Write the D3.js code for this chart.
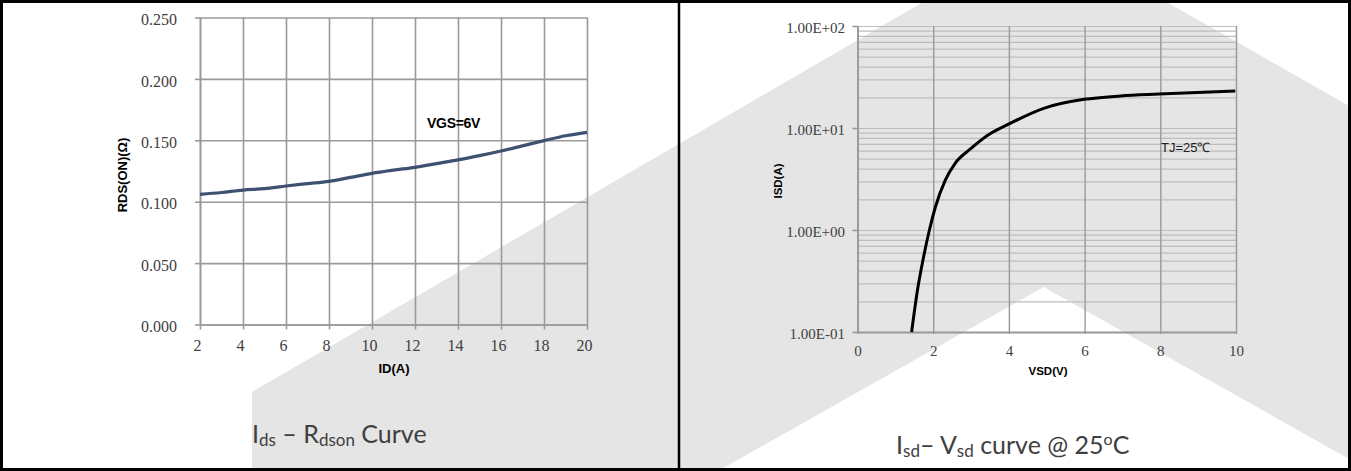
<!DOCTYPE html>
<html><head><meta charset="utf-8">
<script src="https://cdn.jsdelivr.net/npm/d3@7/dist/d3.min.js"></script>
<style>
html,body{margin:0;padding:0;background:#fff;}
svg{display:block;}
.serif text{font-family:"Liberation Serif","DejaVu Serif",serif !important;}
</style></head>
<body>
<svg id="c" width="1351" height="471"></svg>
<script>
// ---- Data: left chart (Ids - Rdson) ----
const idA = [2, 3, 4, 5, 6, 7, 8, 9, 10, 11, 12, 13, 14, 15, 16, 17, 18, 19, 20];
const rdsOn = [0.106, 0.1075, 0.1095, 0.1106, 0.1128, 0.1147, 0.1166, 0.1198, 0.1231, 0.1257, 0.128, 0.131, 0.134, 0.1375, 0.1413, 0.1455, 0.1497, 0.1537, 0.1565];
const xTicksL = [2, 4, 6, 8, 10, 12, 14, 16, 18, 20];
const yTicksL = [0, 0.05, 0.1, 0.15, 0.2, 0.25];
const yTickLabelsL = ["0.000", "0.050", "0.100", "0.150", "0.200", "0.250"];

// ---- Data: right chart (Isd - Vsd) ----
const vsd = [1.43, 1.585, 1.73, 1.9, 2.06, 2.32, 2.58, 3.0, 3.45, 3.99, 4.92, 5.99, 6.95, 7.97, 9.98];
const isd = [0.1, 0.258, 0.508, 1.0, 1.69, 3.09, 4.51, 6.3, 8.53, 10.9, 15.6, 19.1, 20.6, 21.5, 23.1];
const xTicksR = [0, 2, 4, 6, 8, 10];
const yTicksR = [0.1, 1, 10, 100];
const yTickLabelsR = ["1.00E-01", "1.00E+00", "1.00E+01", "1.00E+02"];

const svg = d3.select("#c");

// ---- watermark (background chevron) ----
svg.append("polygon")
  .attr("points", [[252,471],[252,392],[1043.6,-68],[1351,107],[1351,460],[1043.7,287],[718,471]].map(p=>p.join(",")).join(" "))
  .attr("fill", "#e5e5e5");

const labFont = "'Liberation Sans', Arial, sans-serif";

// ================= LEFT CHART =================
const xL = d3.scaleLinear().domain([2, 20]).range([200, 587]);
const yL = d3.scaleLinear().domain([0, 0.25]).range([324.5, 17.5]);
const gL = svg.append("g");

// grid
gL.append("g").attr("transform", `translate(0,${yL(0)})`)
  .call(d3.axisBottom(xL).tickValues(xTicksL).tickSize(-(yL(0) - yL(0.25))).tickFormat("").tickSizeOuter(0))
  .call(g => g.select(".domain").remove())
  .call(g => g.selectAll("line").attr("stroke", "#9a9a9a").attr("stroke-width", 1.6));
gL.append("g").attr("transform", `translate(${xL(2)},0)`)
  .call(d3.axisLeft(yL).tickValues(yTicksL).tickSize(-(xL(20) - xL(2))).tickFormat("").tickSizeOuter(0))
  .call(g => g.select(".domain").remove())
  .call(g => g.selectAll("line").attr("stroke", "#9a9a9a").attr("stroke-width", 1.6));

// axes with labels
gL.append("g").attr("class", "serif").attr("transform", `translate(0,${yL(0)})`)
  .call(d3.axisBottom(xL).tickValues(xTicksL).tickSize(5).tickPadding(10).tickSizeOuter(0))
  .call(g => g.select(".domain").attr("stroke", "#9a9a9a").attr("stroke-width", 1.6))
  .call(g => g.selectAll("line").attr("stroke", "#9a9a9a").attr("stroke-width", 1.6))
  .call(g => g.selectAll("text").attr("font-size", 16).attr("fill", "#404040").attr("dx", -3));
gL.append("g").attr("class", "serif").attr("transform", `translate(${xL(2)},0)`)
  .call(d3.axisLeft(yL).tickValues(yTicksL).tickSize(5).tickPadding(18).tickSizeOuter(0)
    .tickFormat((d, i) => yTickLabelsL[i]))
  .call(g => g.select(".domain").attr("stroke", "#9a9a9a").attr("stroke-width", 1.6))
  .call(g => g.selectAll("line").attr("stroke", "#9a9a9a").attr("stroke-width", 1.6))
  .call(g => g.selectAll("text").attr("font-size", 16).attr("fill", "#404040").attr("dy", "0.45em"));

// curve
gL.append("path")
  .datum(idA.map((d, i) => [d, rdsOn[i]]))
  .attr("fill", "none").attr("stroke", "#3e5170").attr("stroke-width", 3.2)
  .attr("d", d3.line().x(d => xL(d[0])).y(d => yL(d[1])).curve(d3.curveMonotoneX));

// labels
gL.append("text").attr("x", 394).attr("y", 373).attr("text-anchor", "middle")
  .attr("font-family", labFont).attr("font-weight", "bold").attr("font-size", 13).text("ID(A)");
gL.append("text").attr("transform", "translate(127,175) rotate(-90)").attr("text-anchor", "middle")
  .attr("font-family", labFont).attr("font-weight", "bold").attr("font-size", 13).text("RDS(ON)(Ω)");
gL.append("text").attr("x", 427).attr("y", 128)
  .attr("font-family", labFont).attr("font-weight", "bold").attr("font-size", 14).attr("letter-spacing", -0.3).text("VGS=6V");

// title
const tL = svg.append("text").attr("x", 252).attr("y", 443)
  .attr("font-family", "Lato, 'Open Sans', sans-serif").attr("font-size", 25).attr("fill", "#404040");
tL.append("tspan").text("I");
tL.append("tspan").attr("font-size", 17).attr("dy", 3).text("ds");
tL.append("tspan").attr("dy", -3).text(" – R");
tL.append("tspan").attr("font-size", 17).attr("dy", 3).text("dson");
tL.append("tspan").attr("dy", -3).text(" Curve");

// ================= RIGHT CHART =================
const xR = d3.scaleLinear().domain([0, 10]).range([857.5, 1236]);
const yR = d3.scaleLog().domain([0.1, 100]).range([332, 26]);
const gR = svg.append("g");

const minorVals = [];
[0.1, 1, 10].forEach(b => { for (let k = 1; k <= 9; k++) minorVals.push(b * k); });
minorVals.push(100);

gR.append("g").attr("transform", `translate(${xR(0)},0)`)
  .call(d3.axisLeft(yR).tickValues(minorVals).tickSize(-(xR(10) - xR(0))).tickFormat("").tickSizeOuter(0))
  .call(g => g.select(".domain").remove())
  .call(g => g.selectAll("line").attr("stroke", "#bdbdbd").attr("stroke-width", 1.2));
gR.append("g").attr("transform", `translate(0,${yR(0.1)})`)
  .call(d3.axisBottom(xR).tickValues(xTicksR).tickSize(-(yR(0.1) - yR(100))).tickFormat("").tickSizeOuter(0))
  .call(g => g.select(".domain").remove())
  .call(g => g.selectAll("line").attr("stroke", "#999").attr("stroke-width", 1.4));

gR.append("g").attr("class", "serif").attr("transform", `translate(0,${yR(0.1)})`)
  .call(d3.axisBottom(xR).tickValues(xTicksR).tickSize(2).tickPadding(11).tickSizeOuter(0))
  .call(g => g.select(".domain").attr("stroke", "#999").attr("stroke-width", 1.8))
  .call(g => g.selectAll("line").attr("stroke", "#999").attr("stroke-width", 1.4))
  .call(g => g.selectAll("text").attr("font-size", 15).attr("fill", "#404040"));
gR.append("g").attr("class", "serif").attr("transform", `translate(${xR(0)},0)`)
  .call(d3.axisLeft(yR).tickValues(yTicksR).tickSize(5).tickPadding(7.5).tickSizeOuter(0)
    .tickFormat((d, i) => yTickLabelsR[i]))
  .call(g => g.select(".domain").attr("stroke", "#999").attr("stroke-width", 1.8))
  .call(g => g.selectAll("line").attr("stroke", "#999").attr("stroke-width", 1.6))
  .call(g => g.selectAll("text").attr("font-size", 15).attr("fill", "#404040").attr("dy", "0.45em"));

gR.append("path")
  .datum(vsd.map((d, i) => [d, isd[i]]))
  .attr("fill", "none").attr("stroke", "#000").attr("stroke-width", 3)
  .attr("d", d3.line().x(d => xR(d[0])).y(d => yR(d[1])).curve(d3.curveMonotoneX));

gR.append("text").attr("x", 1048).attr("y", 375).attr("text-anchor", "middle")
  .attr("font-family", labFont).attr("font-weight", "bold").attr("font-size", 11.5).text("VSD(V)");
gR.append("text").attr("transform", "translate(782,181) rotate(-90)").attr("text-anchor", "middle")
  .attr("font-family", labFont).attr("font-weight", "bold").attr("font-size", 11.5).text("ISD(A)");
gR.append("text").attr("x", 1161).attr("y", 152)
  .attr("font-family", labFont).attr("font-size", 13).attr("fill", "#222").text("TJ=25℃");

const tR = svg.append("text").attr("x", 896).attr("y", 454)
  .attr("font-family", "Lato, 'Open Sans', sans-serif").attr("font-size", 25).attr("fill", "#404040");
tR.append("tspan").text("I");
tR.append("tspan").attr("font-size", 17).attr("dy", 3).text("sd");
tR.append("tspan").attr("dy", -3).text("– V");
tR.append("tspan").attr("font-size", 17).attr("dy", 3).text("sd");
tR.append("tspan").attr("dy", -3).text(" curve @ 25");
tR.append("tspan").attr("font-size", 16).attr("dy", -9).text("o");
tR.append("tspan").attr("dy", 9).text("C");

// ---- frame ----
svg.append("rect").attr("x", 1.5).attr("y", 1.5).attr("width", 1348).attr("height", 468)
  .attr("fill", "none").attr("stroke", "#000").attr("stroke-width", 3);
svg.append("line").attr("x1", 679).attr("x2", 679).attr("y1", 0).attr("y2", 471)
  .attr("stroke", "#000").attr("stroke-width", 2.5);
</script>
</body></html>
